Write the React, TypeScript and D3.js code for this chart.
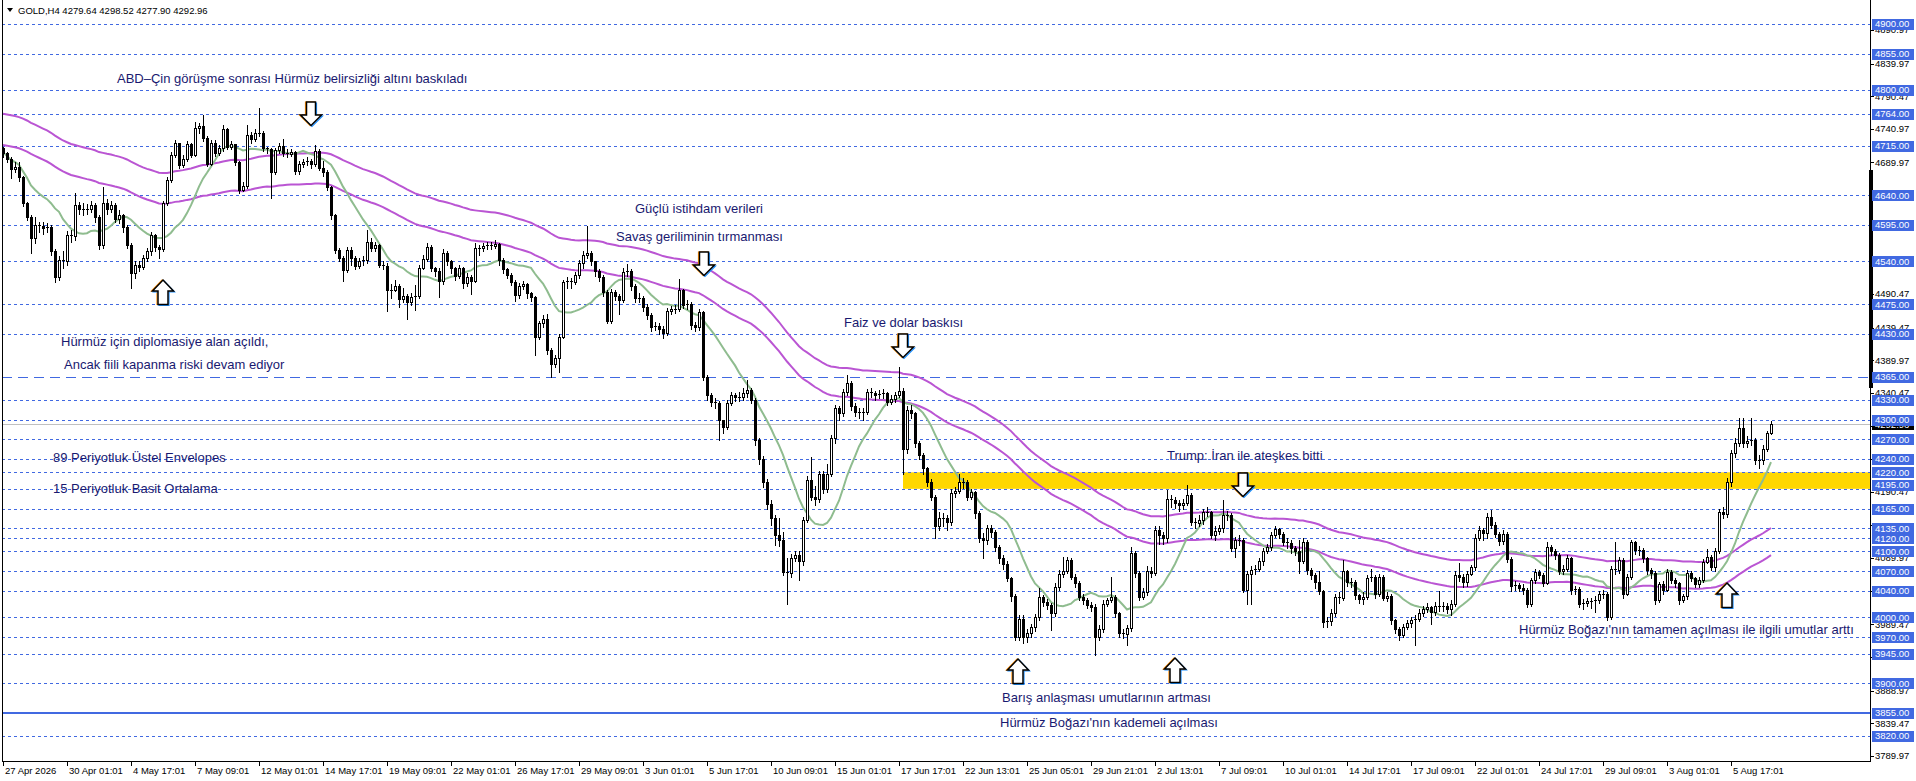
import React from "react";
import * as d3 from "d3";

const W = 1916;
const H = 781;

const header = "GOLD,H4  4279.64 4298.52 4277.90 4292.96";
const firstOpen = 4712;
const bidPrice = 4292.96;

const closes = [
  4705, 4695, 4680, 4683, 4668, 4628, 4608, 4575, 4595, 4593,
  4590, 4592, 4555, 4517, 4542, 4540, 4580, 4578, 4625, 4620,
  4618, 4620, 4626, 4607, 4565, 4628, 4620, 4625, 4605, 4610,
  4592, 4565, 4522, 4534, 4532, 4545, 4555, 4580, 4562, 4558,
  4628, 4663, 4701, 4719, 4686, 4695, 4718, 4702, 4742, 4746,
  4727, 4688, 4720, 4705, 4712, 4740, 4714, 4718, 4690, 4648,
  4655, 4731, 4725, 4735, 4735, 4712, 4710, 4676, 4709, 4715,
  4705, 4703, 4706, 4677, 4687, 4690, 4692, 4688, 4708, 4682,
  4675, 4653, 4610, 4557, 4545, 4527, 4557, 4545, 4533, 4540,
  4542, 4570, 4560, 4565, 4535, 4533, 4497, 4497, 4503, 4483,
  4488, 4479, 4486, 4488, 4530, 4544, 4562, 4530, 4525, 4510,
  4552, 4540, 4530, 4518, 4530, 4507, 4517, 4510, 4560, 4560,
  4563, 4565, 4564, 4566, 4542, 4528, 4520, 4509, 4489, 4503,
  4505, 4492, 4486, 4426, 4446, 4453, 4406, 4385, 4393, 4426,
  4509, 4510, 4508, 4519, 4537, 4550, 4553, 4540, 4525, 4517,
  4494, 4450, 4494, 4488, 4482, 4524, 4526, 4502, 4484, 4485,
  4471, 4459, 4441, 4442, 4438, 4431, 4464, 4468, 4468, 4496,
  4474, 4476, 4444, 4441, 4463, 4365, 4337, 4327, 4325, 4299,
  4289, 4325, 4337, 4335, 4335, 4341, 4345, 4330, 4269, 4240,
  4205, 4172, 4150, 4125, 4117, 4069, 4067, 4090, 4095, 4085,
  4148, 4208, 4183, 4180, 4218, 4195, 4218, 4272, 4317, 4310,
  4342, 4355, 4320, 4312, 4310, 4312, 4342, 4340, 4337, 4339,
  4340, 4327, 4331, 4337, 4344, 4256, 4315, 4310, 4264, 4246,
  4226, 4206, 4183, 4138, 4150, 4150, 4145, 4188, 4192, 4205,
  4205, 4183, 4190, 4158, 4120, 4118, 4135, 4130, 4107, 4090,
  4081, 4060, 4032, 3971, 3998, 3970, 3976, 3985, 4000, 4031,
  4024, 4019, 4006, 4046, 4066, 4071, 4087, 4062, 4052, 4031,
  4027, 4019, 4016, 3971, 3982, 4021, 4026, 4031, 4006, 3976,
  3975, 3984, 4097, 4067, 4031, 4038, 4071, 4068, 4133, 4125,
  4120, 4180, 4178, 4173, 4170, 4173, 4185, 4145, 4143, 4148,
  4160, 4160, 4125, 4131, 4135, 4155, 4155, 4105, 4117, 4118,
  4041, 4066, 4072, 4073, 4085, 4100, 4107, 4125, 4134, 4127,
  4115, 4113, 4105, 4101, 4085, 4115, 4072, 4065, 4053, 4040,
  3993, 3995, 4006, 4031, 4030, 4070, 4054, 4053, 4034, 4028,
  4031, 4059, 4061, 4036, 4062, 4030, 4033, 3996, 3983, 3974,
  3985, 3991, 3996, 3998, 4006, 4013, 4016, 4008, 4018, 4016,
  4018, 4012, 4021, 4064, 4062, 4053, 4066, 4076, 4120, 4132,
  4128, 4152, 4140, 4127, 4116, 4127, 4089, 4047, 4049, 4045,
  4042, 4021, 4056, 4069, 4065, 4052, 4107, 4100, 4095, 4071,
  4073, 4090, 4041, 4043, 4021, 4022, 4025, 4025, 4026, 4036,
  4036, 4001, 4074, 4072, 4087, 4036, 4062, 4115, 4102, 4102,
  4090, 4072, 4067, 4027, 4050, 4042, 4069, 4057, 4052, 4027,
  4032, 4067, 4060, 4050, 4057, 4084, 4092, 4077, 4100, 4160,
  4157, 4206, 4249, 4264, 4287, 4264, 4268, 4269, 4239, 4239,
  4256, 4279.64, 4292.96,
];

const highs = [
  4714, 4706, 4698, 4690, 4690, 4670, 4630, 4610, 4607, 4600,
  4600, 4598, 4595, 4558, 4548, 4556, 4586, 4588, 4643, 4630,
  4628, 4627, 4632, 4628, 4610, 4653, 4634, 4632, 4628, 4618,
  4612, 4595, 4568, 4540, 4540, 4550, 4560, 4585, 4582, 4565,
  4632, 4668, 4706, 4724, 4720, 4702, 4722, 4720, 4752, 4750,
  4762, 4730, 4724, 4724, 4716, 4747, 4742, 4722, 4718, 4692,
  4660, 4747, 4736, 4740, 4772, 4738, 4714, 4712, 4712, 4720,
  4725, 4710, 4710, 4708, 4692, 4696, 4698, 4695, 4716, 4710,
  4692, 4678, 4655, 4612, 4560, 4548, 4562, 4562, 4548, 4545,
  4548, 4588, 4575, 4570, 4566, 4540, 4538, 4505, 4512, 4505,
  4500, 4490, 4492, 4504, 4535, 4550, 4568, 4565, 4532, 4530,
  4558, 4555, 4542, 4532, 4535, 4532, 4522, 4520, 4568, 4565,
  4568, 4570, 4570, 4572, 4568, 4545, 4530, 4522, 4512, 4507,
  4510, 4507, 4494, 4488, 4450, 4458, 4460, 4408, 4398, 4430,
  4512, 4516, 4515, 4524, 4542, 4555, 4593, 4556, 4540, 4528,
  4520, 4496, 4498, 4496, 4490, 4530, 4536, 4528, 4505, 4492,
  4488, 4475, 4462, 4448, 4446, 4442, 4470, 4472, 4474, 4514,
  4498, 4482, 4478, 4448, 4468, 4465, 4368, 4340, 4332, 4328,
  4300, 4330, 4342, 4340, 4342, 4348, 4360, 4348, 4332, 4272,
  4245, 4210, 4178, 4155, 4150, 4130, 4090, 4096, 4100, 4100,
  4152, 4214, 4244, 4200, 4222, 4222, 4233, 4276, 4322, 4320,
  4346, 4368, 4358, 4325, 4318, 4318, 4346, 4348, 4343, 4345,
  4346, 4342, 4337, 4342, 4380, 4348, 4320, 4322, 4312, 4268,
  4250, 4228, 4210, 4186, 4160, 4158, 4155, 4194, 4198, 4218,
  4212, 4208, 4195, 4192, 4162, 4128, 4140, 4140, 4132, 4110,
  4094, 4085, 4062, 4035, 4003, 4003, 3982, 3990, 4005, 4045,
  4034, 4028, 4022, 4052, 4072, 4092, 4092, 4090, 4066, 4055,
  4036, 4030, 4024, 4020, 3988, 4026, 4030, 4062, 4034, 4008,
  3982, 3988, 4107, 4100, 4070, 4044, 4078, 4076, 4138, 4138,
  4130, 4193, 4186, 4182, 4178, 4180, 4201, 4188, 4150, 4155,
  4165, 4168, 4162, 4138, 4140, 4178, 4162, 4158, 4122, 4125,
  4120, 4070, 4078, 4080, 4090, 4105, 4112, 4130, 4138, 4136,
  4130, 4120, 4118, 4108, 4118, 4120, 4118, 4075, 4068, 4070,
  4042, 4000, 4012, 4036, 4038, 4087, 4072, 4060, 4056, 4036,
  4038, 4064, 4074, 4064, 4066, 4064, 4038, 4036, 3998, 3986,
  3990, 3996, 4000, 4004, 4012, 4018, 4022, 4018, 4024, 4040,
  4024, 4022, 4026, 4070, 4082, 4066, 4070, 4080, 4126, 4138,
  4136, 4158, 4163, 4144, 4130, 4132, 4130, 4092, 4055, 4052,
  4050, 4045, 4060, 4074, 4072, 4068, 4115, 4110, 4104, 4098,
  4080, 4094, 4092, 4048, 4046, 4028, 4030, 4030, 4032, 4040,
  4042, 4038, 4078, 4115, 4092, 4090, 4066, 4118, 4116, 4108,
  4105, 4092, 4075, 4070, 4054, 4055, 4074, 4072, 4060, 4054,
  4036, 4072, 4070, 4062, 4062, 4088, 4104, 4094, 4105, 4165,
  4168, 4212, 4254, 4272, 4302, 4302, 4275, 4302, 4272, 4246,
  4262, 4282, 4298.52,
];

const lows = [
  4698, 4690, 4666, 4675, 4662, 4624, 4603, 4552, 4568, 4585,
  4582, 4585, 4550, 4509, 4512, 4530, 4535, 4570, 4572, 4612,
  4610, 4612, 4615, 4600, 4558, 4560, 4612, 4615, 4600, 4598,
  4585, 4560, 4499, 4515, 4525, 4528, 4540, 4550, 4556, 4545,
  4555, 4625, 4660, 4698, 4682, 4683, 4692, 4698, 4700, 4735,
  4722, 4684, 4686, 4700, 4702, 4708, 4710, 4710, 4686, 4644,
  4646, 4652, 4720, 4722, 4730, 4708, 4705, 4636, 4672, 4705,
  4700, 4698, 4700, 4672, 4672, 4683, 4686, 4682, 4685, 4678,
  4670, 4648, 4605, 4552, 4540, 4510, 4524, 4535, 4528, 4530,
  4534, 4538, 4555, 4556, 4532, 4528, 4464, 4485, 4495, 4471,
  4478, 4453, 4474, 4466, 4485, 4528, 4540, 4525, 4518, 4486,
  4506, 4535, 4522, 4512, 4515, 4500, 4502, 4490, 4508, 4550,
  4555, 4558, 4558, 4560, 4535, 4522, 4515, 4504, 4480, 4485,
  4498, 4485, 4480, 4398, 4422, 4440, 4400, 4365, 4380, 4372,
  4424, 4500, 4500, 4505, 4515, 4530, 4545, 4535, 4518, 4510,
  4488, 4446, 4446, 4482, 4460, 4478, 4518, 4496, 4478, 4478,
  4465, 4452, 4434, 4436, 4430, 4424, 4428, 4460, 4462, 4464,
  4470, 4468, 4438, 4434, 4436, 4360, 4330, 4320, 4318, 4269,
  4280, 4286, 4322, 4328, 4328, 4330, 4335, 4325, 4262, 4232,
  4198, 4165, 4140, 4110, 4108, 4064, 4021, 4062, 4085, 4057,
  4080, 4145, 4178, 4170, 4175, 4188, 4190, 4215, 4264, 4300,
  4305, 4338, 4315, 4305, 4303, 4300, 4308, 4334, 4330, 4332,
  4332, 4322, 4324, 4326, 4335, 4218, 4250, 4302, 4258, 4240,
  4218, 4200, 4178, 4120, 4132, 4138, 4132, 4140, 4182, 4188,
  4196, 4178, 4180, 4150, 4115, 4090, 4112, 4122, 4100, 4082,
  4074, 4055, 4025, 3965, 3966, 3961, 3962, 3970, 3980, 3996,
  4018, 4012, 3981, 4002, 4042, 4062, 4068, 4058, 4046, 4026,
  4020, 4014, 4010, 3943, 3966, 3978, 4018, 4024, 4000, 3970,
  3968, 3958, 3980, 4062, 4026, 4028, 4034, 4062, 4064, 4112,
  4112, 4115, 4168, 4166, 4162, 4165, 4170, 4140, 4135, 4138,
  4142, 4154, 4120, 4118, 4126, 4130, 4148, 4100, 4092, 4110,
  4038, 4020, 4020, 4066, 4070, 4080, 4098, 4102, 4122, 4120,
  4110, 4106, 4098, 4094, 4068, 4082, 4066, 4058, 4045, 4036,
  3986, 3986, 3988, 4002, 4022, 4026, 4048, 4046, 4028, 4022,
  4020, 4028, 4055, 4030, 4033, 4026, 4025, 3990, 3976, 3965,
  3970, 3982, 3986, 3958, 3994, 4002, 4008, 3990, 4004, 4010,
  4010, 4006, 4004, 4018, 4055, 4046, 4048, 4064, 4072, 4118,
  4118, 4120, 4135, 4122, 4110, 4112, 4084, 4040, 4042, 4040,
  4036, 4016, 4018, 4052, 4060, 4048, 4050, 4094, 4088, 4066,
  4066, 4070, 4036, 4036, 4016, 4013, 4018, 4015, 4008, 4022,
  4030, 3996, 3998, 4066, 4068, 4030, 4034, 4058, 4096, 4094,
  4084, 4066, 4060, 4020, 4024, 4036, 4040, 4052, 4046, 4020,
  4024, 4028, 4055, 4046, 4046, 4054, 4082, 4072, 4070, 4098,
  4150, 4152, 4200, 4244, 4260, 4258, 4258, 4262, 4232, 4226,
  4232, 4252, 4277.90,
];

const xLabels = [
  "27 Apr 2026", "30 Apr 01:01", "4 May 17:01", "7 May 09:01", "12 May 01:01",
  "14 May 17:01", "19 May 09:01", "22 May 01:01", "26 May 17:01", "29 May 09:01",
  "3 Jun 01:01", "5 Jun 17:01", "10 Jun 09:01", "15 Jun 01:01", "17 Jun 17:01",
  "22 Jun 13:01", "25 Jun 05:01", "29 Jun 21:01", "2 Jul 13:01", "7 Jul 09:01",
  "10 Jul 01:01", "14 Jul 17:01", "17 Jul 09:01", "22 Jul 01:01", "24 Jul 17:01",
  "29 Jul 09:01", "3 Aug 01:01", "5 Aug 17:01",
];
const xLabelEvery = 16;

const axisTicks = [
  4890.97, 4839.97, 4790.47, 4740.97, 4689.97, 4639.97, 4590.47, 4540.97,
  4490.47, 4439.47, 4389.97, 4340.47, 4290.97, 4240.47, 4190.47, 4139.47,
  4089.97, 4039.47, 3989.47, 3939.97, 3888.97, 3839.47, 3789.97,
];

const levels = [
  4900, 4855, 4800, 4764, 4715, 4640, 4595, 4540, 4475, 4430, 4365, 4330,
  4300, 4270, 4240, 4220, 4195, 4165, 4135, 4120, 4100, 4070, 4040, 4000,
  3970, 3945, 3900, 3855, 3820,
];
const longDashLevel = 4365;
const solidLevel = 3855;

const zoneTop = 4220;
const zoneBottom = 4195;
const zoneStartBar = 225;

const emaPeriod = 89;
const emaSeed = 4741;
const envelopePct = 0.5;
const smaPeriod = 15;

const notes = [
  { text: "ABD–Çin görüşme sonrası Hürmüz belirsizliği altını baskıladı", bar: 28.5, price: 4818 },
  { text: "Güçlü istihdam verileri", bar: 158, price: 4621 },
  { text: "Savaş geriliminin tırmanması", bar: 153.25, price: 4578 },
  { text: "Faiz ve dolar baskısı", bar: 210.25, price: 4448 },
  { text: "Hürmüz için diplomasiye alan açıldı,", bar: 14.5, price: 4418 },
  { text: "Ancak fiili kapanma riski devam ediyor", bar: 15.25, price: 4383 },
  { text: "89 Periyotluk Üstel Envelopes", bar: 12.5, price: 4242 },
  { text: "15 Periyotluk Basit Ortalama", bar: 12.5, price: 4196 },
  { text: "Trump: İran ile ateşkes bitti", bar: 291, price: 4245 },
  { text: "Hürmüz Boğazı'nın tamamen açılması ile ilgili umutlar arttı", bar: 379, price: 3982 },
  { text: "Barış anlaşması umutlarının artması", bar: 249.75, price: 3878 },
  { text: "Hürmüz Boğazı'nın kademeli açılması", bar: 249.25, price: 3840 },
];

const arrows = [
  { bar: 77, price: 4782, dir: "down" },
  { bar: 40, price: 4512, dir: "up" },
  { bar: 175.25, price: 4554, dir: "down" },
  { bar: 225, price: 4430, dir: "down" },
  { bar: 310, price: 4219, dir: "down" },
  { bar: 431, price: 4052, dir: "up" },
  { bar: 253.75, price: 3937, dir: "up" },
  { bar: 293, price: 3938, dir: "up" },
];

const FONT = "'Liberation Sans', Arial, sans-serif";
const LEVEL_BLUE = "#4169E1";
const TEXT_BLUE = "#191970";
// small vertical shift of one axis label (the terminal pushes it up to avoid overlap)
const labelShift: Record<number, number> = { 4195: -4 };

export default function App() {
  const plotL = 2;
  const plotR = 1870;
  const plotB = 761;

  const x = d3.scaleLinear().domain([0, 1]).range([3, 7]);
  const y = d3.scaleLinear().domain([3782.2, 4936.4]).range([plotB, 0]);

  const opens = closes.map((c, i) => (i === 0 ? firstOpen : closes[i - 1]));

  const alpha = 2 / (emaPeriod + 1);
  const ema: number[] = [];
  let e = emaSeed;
  closes.forEach((c) => {
    e = alpha * c + (1 - alpha) * e;
    ema.push(e);
  });
  const sma = closes.map((_, i) => {
    const s = Math.max(0, i - smaPeriod + 1);
    return d3.mean(closes.slice(s, i + 1)) as number;
  });

  const line = d3
    .line<number>()
    .x((_, i) => x(i))
    .y((v) => y(v));

  const upper = ema.map((v) => v * (1 + envelopePct / 100));
  const lower = ema.map((v) => v * (1 - envelopePct / 100));

  const crisp = (v: number) => Math.round(v) + 0.5;

  const candles = closes.map((c, i) => {
    const o = opens[i];
    const h = Math.max(highs[i], o, c);
    const l = Math.min(lows[i], o, c);
    const cx = Math.round(x(i));
    const yo = Math.round(y(o));
    const yc = Math.round(y(c));
    const top = Math.min(yo, yc);
    const bot = Math.max(yo, yc);
    const bull = c >= o;
    return (
      <g key={i}>
        <line x1={cx + 0.5} x2={cx + 0.5} y1={Math.round(y(h))} y2={Math.round(y(l)) + 1} stroke="#000" strokeWidth={1} />
        {bot - top < 2 ? (
          <line x1={cx - 1} x2={cx + 2} y1={top + 0.5} y2={top + 0.5} stroke="#000" strokeWidth={1} />
        ) : bull ? (
          <rect x={cx - 0.5} y={top + 0.5} width={2} height={bot - top} fill="#fff" stroke="#000" strokeWidth={1} />
        ) : (
          <rect x={cx - 1} y={top} width={3} height={bot - top + 1} fill="#000" />
        )}
      </g>
    );
  });

  const arrowPath = (dir: string) =>
    dir === "down"
      ? "M -4.5 0 H 4.5 V 13 H 10.5 L 0 23.5 L -10.5 13 H -4.5 Z"
      : "M 0 0 L 10.5 11 H 5 V 24.5 H -5 V 11 H -10.5 Z";

  const zoneX = x(zoneStartBar);

  return (
    <svg
      width={W}
      height={H}
      style={{ position: "fixed", left: 0, top: 0, background: "#fff", fontFamily: FONT }}
    >
      <rect x={0} y={0} width={W} height={H} fill="#fff" />

      <rect
        x={zoneX}
        y={y(zoneTop)}
        width={plotR - zoneX}
        height={y(zoneBottom) - y(zoneTop)}
        fill="#FFD700"
      />

      {levels.map((p) => (
        <line
          key={p}
          x1={plotL}
          x2={plotR}
          y1={p === solidLevel ? Math.round(y(p)) : crisp(y(p))}
          y2={p === solidLevel ? Math.round(y(p)) : crisp(y(p))}
          stroke={LEVEL_BLUE}
          strokeWidth={p === solidLevel ? 2 : 1}
          strokeDasharray={p === solidLevel ? undefined : p === longDashLevel ? "10,6" : "3,3"}
        />
      ))}

      <line x1={plotL} x2={plotR} y1={crisp(y(bidPrice))} y2={crisp(y(bidPrice))} stroke="#C0C0C0" strokeWidth={1} />

      <path d={line(upper) || ""} fill="none" stroke="#BA55D3" strokeWidth={2} />
      <path d={line(lower) || ""} fill="none" stroke="#BA55D3" strokeWidth={2} />
      <path d={line(sma) || ""} fill="none" stroke="#8FBC8F" strokeWidth={2} />

      {candles}

      {notes.map((n, i) => (
        <text key={i} x={x(n.bar)} y={y(n.price)} dy="0.35em" fontSize={13} fill={TEXT_BLUE}>
          {n.text}
        </text>
      ))}

      {arrows.map((a, i) => {
        const ax = x(a.bar);
        const ay = Math.round(y(a.price));
        const d = arrowPath(a.dir);
        return (
          <g key={i}>
            <path d={d} transform={`translate(${ax - 1},${ay})`} fill="none" stroke="#FF8C00" strokeWidth={1.2} />
            <path d={d} transform={`translate(${ax + 1},${ay + 1})`} fill="none" stroke="#1E90FF" strokeWidth={1.2} />
            <path d={d} transform={`translate(${ax},${ay})`} fill="#fff" stroke="#000" strokeWidth={1.5} />
          </g>
        );
      })}

      <path d="M 7 8 L 13 8 L 10 12 Z" fill="#000" />
      <text x={18} y={14} fontSize={9.5} fill="#000">
        {header}
      </text>

      <line x1={plotL + 0.5} x2={plotL + 0.5} y1={0} y2={plotB} stroke="#000" />
      <line x1={plotL} x2={plotR + 1} y1={plotB + 0.5} y2={plotB + 0.5} stroke="#000" />
      <line x1={plotR + 0.5} x2={plotR + 0.5} y1={0} y2={plotB + 1} stroke="#000" />
      <rect x={plotR - 1} y={170} width={4} height={218} fill="#000" />

      {xLabels.map((t, i) => {
        const xx = Math.round(x(i * xLabelEvery));
        return (
          <g key={t}>
            <line x1={xx + 0.5} x2={xx + 0.5} y1={plotB} y2={plotB + 5} stroke="#000" />
            <text x={xx + 2} y={plotB + 13} fontSize={9.5} fill="#000">
              {t}
            </text>
          </g>
        );
      })}

      {axisTicks.map((p) => (
        <g key={p}>
          <line x1={plotR} x2={plotR + 4} y1={crisp(y(p))} y2={crisp(y(p))} stroke="#000" />
          <text x={1875} y={y(p)} dy="0.35em" fontSize={9.5} fill="#000">
            {p.toFixed(2)}
          </text>
        </g>
      ))}

      <rect x={1872} y={Math.round(y(bidPrice)) - 5} width={42} height={11} fill="#000" />
      <text x={1875} y={y(bidPrice)} dy="0.35em" fontSize={9.5} fill="#fff">
        {bidPrice.toFixed(2)}
      </text>

      {levels.map((p) => {
        const ly = y(p) + (labelShift[p] || 0);
        return (
          <g key={p}>
            <rect x={1872} y={Math.round(ly) - 5} width={42} height={11} fill={LEVEL_BLUE} />
            <text x={1875} y={ly} dy="0.35em" fontSize={9.5} fill="#fff">
              {p.toFixed(2)}
            </text>
          </g>
        );
      })}
    </svg>
  );
}
